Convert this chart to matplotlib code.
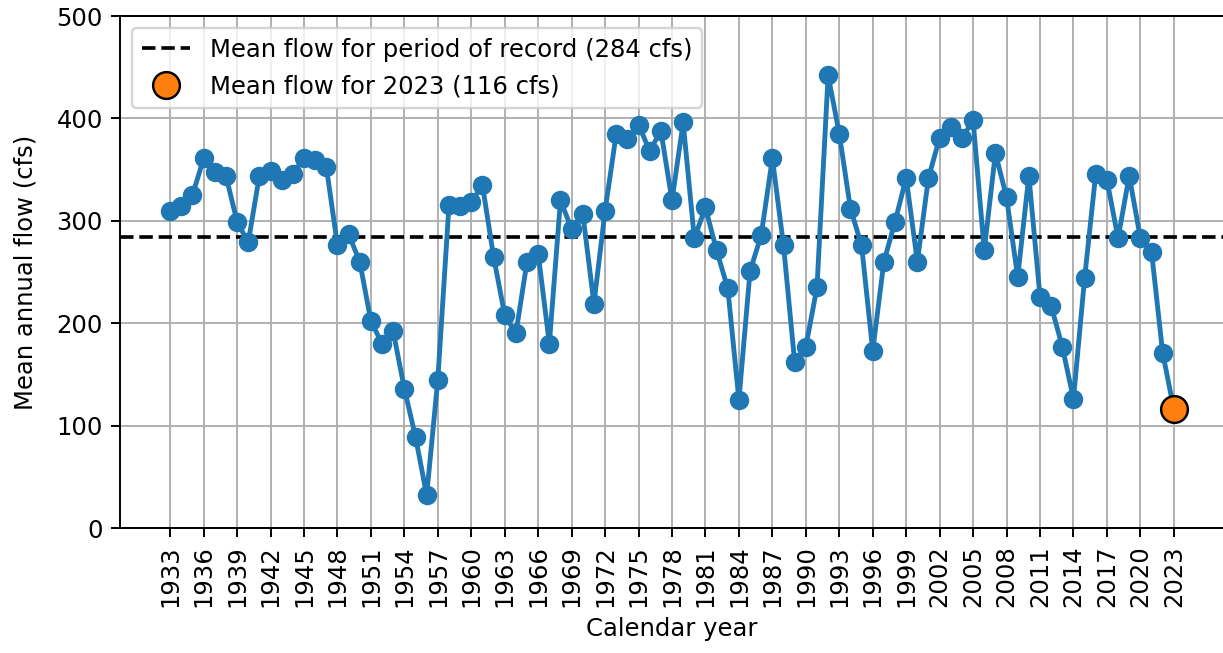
import matplotlib
matplotlib.use("Agg")
import matplotlib.pyplot as plt

# annual mean flow, cfs
years = list(range(1933, 2024))
flow = [
    310, 314, 325, 361, 348, 344, 299, 279, 344, 349,  # 1933-1942
    340, 346, 361, 359, 353, 276, 287, 260, 202, 180,  # 1943-1952
    192, 136, 89, 32, 145, 315, 314, 318, 335, 265,    # 1953-1962
    208, 190, 260, 268, 180, 320, 292, 307, 219, 310,  # 1963-1972
    385, 380, 394, 368, 388, 320, 396, 283, 313, 271,  # 1973-1982
    234, 125, 251, 286, 361, 276, 162, 177, 235, 442,  # 1983-1992
    385, 312, 276, 173, 260, 299, 342, 260, 342, 381,  # 1993-2002
    392, 381, 398, 271, 366, 323, 245, 344, 226, 217,  # 2003-2012
    177, 126, 244, 346, 340, 283, 344, 283, 270, 171,  # 2013-2022
    116,                                               # 2023
]
period_mean = 284
current_year = 2023
current_flow = 116
tick_years = list(range(1933, 2024, 3))

fig = plt.figure(figsize=(1223 / 175, 653 / 175), dpi=175)
ax = fig.add_axes([120 / 1223, 1 - 528 / 653, 1104 / 1223, 512 / 653])

ax.plot(years, flow, marker="o", color="tab:blue", linewidth=2, markersize=7, zorder=3)
ax.axhline(period_mean, color="black", linestyle="--",
           label=f"Mean flow for period of record ({period_mean} cfs)", zorder=2)
ax.plot([current_year], [current_flow], marker="o", linestyle="none",
        markersize=11, markerfacecolor="tab:orange", markeredgecolor="black",
        label=f"Mean flow for {current_year} ({current_flow} cfs)", zorder=4)

ax.set_ylim(0, 500)
ax.set_xticks(tick_years)
ax.set_xticklabels([str(y) for y in tick_years], rotation=90)
ax.set_xlabel("Calendar year")
ax.set_ylabel("Mean annual flow (cfs)", labelpad=8)
ax.grid(True)
ax.legend(loc="upper left")

fig.savefig("out.png", dpi=175)
